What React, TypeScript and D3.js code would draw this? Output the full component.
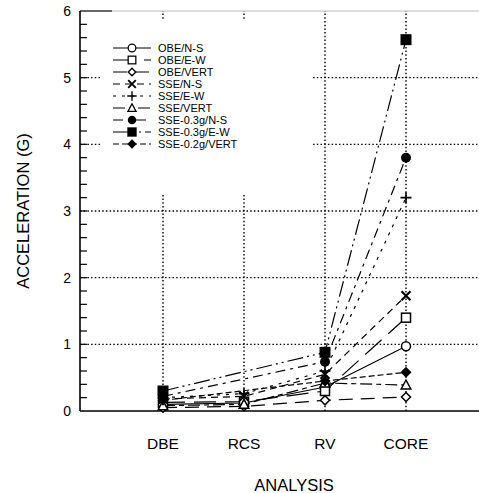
import React, { useEffect, useRef } from 'react';
import * as d3 from 'd3';

// analysis categories on the x axis
const categories = ['DBE', 'RCS', 'RV', 'CORE'];
const yTicks = [0, 1, 2, 3, 4, 5, 6];

// one array per series, null where the analysis was not run
const obeNS = [0.1, 0.12, 0.36, 0.97];
const obeEW = [0.13, 0.14, 0.3, 1.4];
const obeVert = [0.05, 0.07, 0.16, 0.21];
const sseNS = [0.18, 0.22, 0.55, 1.73];
const sseEW = [0.2, 0.26, 0.6, 3.2];
const sseVert = [0.08, 0.1, 0.42, 0.39];
const sse03NS = [0.22, null, 0.74, 3.8];
const sse03EW = [0.3, null, 0.88, 5.57];
const sse02Vert = [0.16, null, 0.45, 0.58];

const seriesNames = [
  'OBE/N-S', 'OBE/E-W', 'OBE/VERT', 'SSE/N-S', 'SSE/E-W',
  'SSE/VERT', 'SSE-0.3g/N-S', 'SSE-0.3g/E-W', 'SSE-0.2g/VERT',
];
const seriesValues = [obeNS, obeEW, obeVert, sseNS, sseEW, sseVert, sse03NS, sse03EW, sse02Vert];
const markers = ['circle', 'square', 'diamond', 'cross', 'plus', 'triangle', 'circleF', 'squareF', 'diamondF'];
const dashes = ['none', '22 9', '14 8', '7 5', '3 6', '12 4 5 4', '10 5 3 5', '16 4 2 4 2 4', '6 3'];

const W = 479;
const H = 493;

function drawMarker(g: any, type: string, cx: number, cy: number) {
  const m = g.append('g').attr('transform', `translate(${cx},${cy})`);
  switch (type) {
    case 'circle':
      m.append('circle').attr('r', 4.5).attr('fill', 'white').attr('stroke', 'black').attr('stroke-width', 1.5);
      break;
    case 'circleF':
      m.append('circle').attr('r', 5).attr('fill', 'black');
      break;
    case 'square':
      m.append('rect').attr('x', -4.5).attr('y', -4.5).attr('width', 9).attr('height', 9)
        .attr('fill', 'white').attr('stroke', 'black').attr('stroke-width', 1.5);
      break;
    case 'squareF':
      m.append('rect').attr('x', -5.5).attr('y', -5.5).attr('width', 11).attr('height', 11).attr('fill', 'black');
      break;
    case 'diamond':
      m.append('path').attr('d', 'M0,-4.5L4.5,0L0,4.5L-4.5,0Z')
        .attr('fill', 'white').attr('stroke', 'black').attr('stroke-width', 1.5);
      break;
    case 'diamondF':
      m.append('path').attr('d', 'M0,-5.5L5.5,0L0,5.5L-5.5,0Z').attr('fill', 'black');
      break;
    case 'triangle':
      m.append('path').attr('d', 'M0,-5L4.8,4L-4.8,4Z')
        .attr('fill', 'white').attr('stroke', 'black').attr('stroke-width', 1.5);
      break;
    case 'cross':
      m.append('path').attr('d', 'M-4.5,-4.5L4.5,4.5M4.5,-4.5L-4.5,4.5')
        .attr('stroke', 'black').attr('stroke-width', 2.2);
      break;
    case 'plus':
      m.append('path').attr('d', 'M-5.5,0L5.5,0M0,-5.5L0,5.5')
        .attr('stroke', 'black').attr('stroke-width', 1.6);
      break;
  }
}

export default function App() {
  const svgRef = useRef<SVGSVGElement>(null);

  useEffect(() => {
    const svg = d3.select(svgRef.current);
    svg.selectAll('*').remove();

    const x = d3.scaleLinear().domain([0, 5]).range([82, 487]);
    const y = d3.scaleLinear().domain([0, 6]).range([411, 11]);
    const left = 80;
    const right = W;
    const font = 'Liberation Sans, Arial, sans-serif';

    svg.append('rect').attr('width', W).attr('height', H).attr('fill', 'white');

    // dotted grid
    const grid = svg.append('g').attr('stroke', 'black').attr('stroke-width', 1.4)
      .attr('stroke-dasharray', '1.5 2.2');
    yTicks.filter(t => t > 0 && t < 6).forEach(t => {
      grid.append('line').attr('x1', left).attr('x2', right).attr('y1', y(t)).attr('y2', y(t));
    });
    categories.forEach((c, i) => {
      grid.append('line').attr('x1', x(i + 1)).attr('x2', x(i + 1)).attr('y1', y(0)).attr('y2', y(6));
    });

    // top border: short solid piece, faint beyond
    svg.append('line').attr('x1', left).attr('x2', 112).attr('y1', y(6)).attr('y2', y(6))
      .attr('stroke', 'black').attr('stroke-width', 1.2);
    svg.append('line').attr('x1', 112).attr('x2', right).attr('y1', y(6)).attr('y2', y(6))
      .attr('stroke', '#aaa').attr('stroke-width', 0.8);

    // legend background hides the grid behind it
    svg.append('rect').attr('x', 100).attr('y', 20).attr('width', 213).attr('height', 175).attr('fill', 'white');

    // axes
    svg.append('line').attr('x1', left).attr('x2', left).attr('y1', y(0)).attr('y2', y(6))
      .attr('stroke', 'black').attr('stroke-width', 1.6);
    svg.append('line').attr('x1', left).attr('x2', right).attr('y1', y(0)).attr('y2', y(0))
      .attr('stroke', 'black').attr('stroke-width', 1.6);

    // inward ticks every 0.2
    d3.range(1, 30).forEach(k => {
      const v = k * 0.2;
      svg.append('line').attr('x1', left).attr('x2', left + 7).attr('y1', y(v)).attr('y2', y(v))
        .attr('stroke', 'black').attr('stroke-width', 1.2);
    });

    yTicks.forEach(t => {
      svg.append('text').attr('x', 71).attr('y', y(t)).attr('dy', '0.35em')
        .attr('text-anchor', 'end').attr('font-family', font).attr('font-size', 14)
        .text(String(t));
    });

    categories.forEach((c, i) => {
      svg.append('text').attr('x', x(i + 1)).attr('y', 449).attr('text-anchor', 'middle')
        .attr('font-family', font).attr('font-size', 15.5).text(c);
    });

    svg.append('text').attr('x', 294).attr('y', 491).attr('text-anchor', 'middle')
      .attr('font-family', font).attr('font-size', 16.5).text('ANALYSIS');

    svg.append('text').attr('transform', `translate(29,${y(3)}) rotate(-90)`)
      .attr('text-anchor', 'middle').attr('font-family', font).attr('font-size', 16.5)
      .text('ACCELERATION (G)');

    // series lines
    const line = d3.line<[number, number]>().x(d => x(d[0] + 1)).y(d => y(d[1]));
    seriesValues.forEach((vals, s) => {
      const pts = vals.map((v, i) => [i, v] as [number, number | null])
        .filter(p => p[1] !== null) as [number, number][];
      svg.append('path').attr('d', line(pts)).attr('fill', 'none').attr('stroke', 'black')
        .attr('stroke-width', 1.2).attr('stroke-dasharray', dashes[s]);
    });
    seriesValues.forEach((vals, s) => {
      vals.forEach((v, i) => {
        if (v !== null) drawMarker(svg, markers[s], x(i + 1), y(v));
      });
    });

    // legend
    const lg = svg.append('g');
    seriesNames.forEach((name, s) => {
      const ly = 48 + s * 12;
      lg.append('line').attr('x1', 113).attr('x2', 151).attr('y1', ly).attr('y2', ly)
        .attr('stroke', 'black').attr('stroke-width', 1.2).attr('stroke-dasharray', dashes[s]);
      const mg = lg.append('g').attr('transform', `translate(132,${ly}) scale(0.85)`);
      drawMarker(mg, markers[s], 0, 0);
      lg.append('text').attr('x', 158).attr('y', ly).attr('dy', '0.35em')
        .attr('font-family', font).attr('font-size', 11).text(name);
    });
  }, []);

  return <svg ref={svgRef} width={W} height={H} style={{ position: 'absolute', left: 0, top: 0 }} />;
}
